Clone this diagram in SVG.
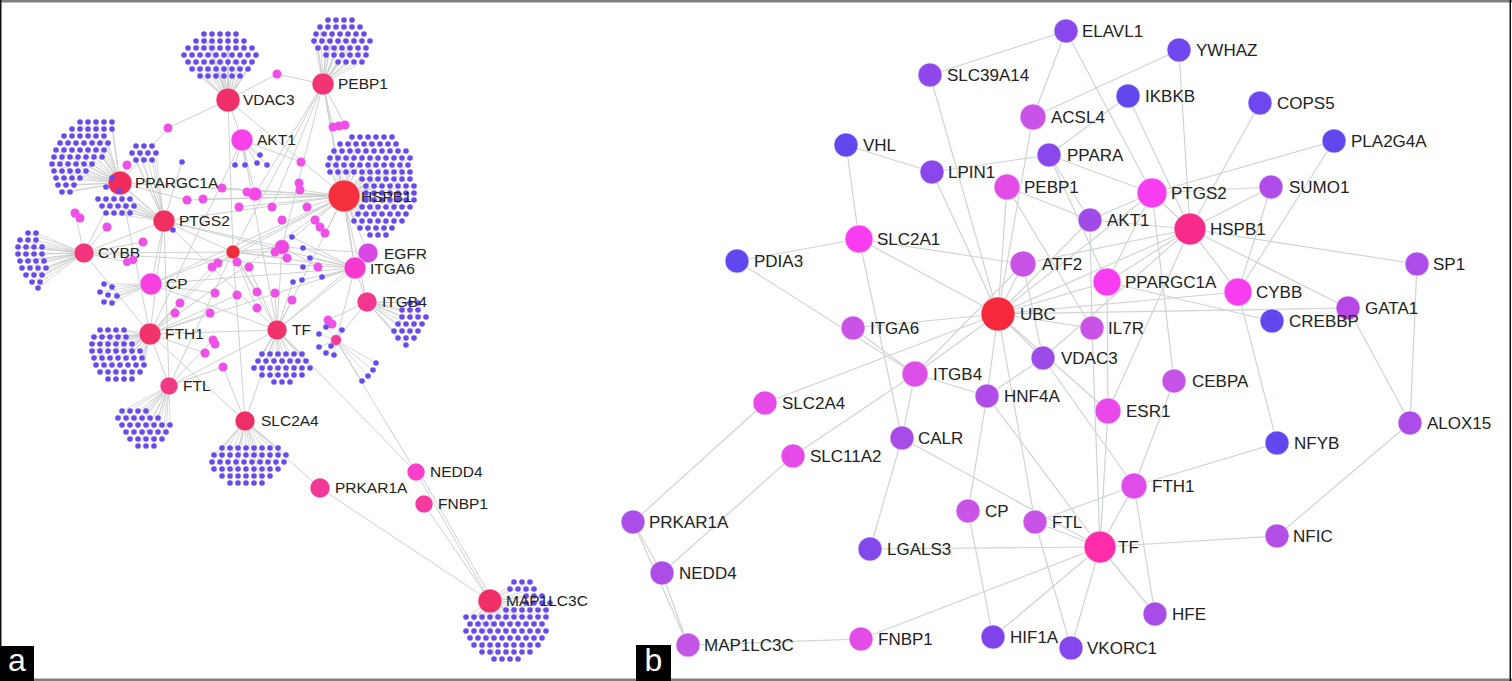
<svg xmlns="http://www.w3.org/2000/svg" width="1512" height="681" viewBox="0 0 1512 681">
<style>
.lb{font-family:"Liberation Sans",Arial,sans-serif;font-size:17px;fill:#222}
.la{font-family:"Liberation Sans",Arial,sans-serif;font-size:15.5px;fill:#222}
.eb line{stroke:#cdd5d2;stroke-width:1.2}
.ea line{stroke:#c5cdca;stroke-width:0.9}
.fan{stroke:#b8c1bd;stroke-width:0.6;fill:none}
.n{stroke:#fff;stroke-opacity:.55;stroke-width:1}
.md{fill:#f150e8}
.pl{font-family:"Liberation Sans",Arial,sans-serif;font-size:32px;fill:#fff}
</style>
<defs>
<circle id="p" r="2.8" fill="#6a4aee"/>
<g id="r2"><use href="#p"/><use href="#p" x="8"/></g>
<g id="r3"><use href="#r2"/><use href="#p" x="16"/></g>
<g id="r4"><use href="#r2"/><use href="#r2" x="16"/></g>
<g id="r5"><use href="#r4"/><use href="#p" x="32"/></g>
<g id="r6"><use href="#r4"/><use href="#r2" x="32"/></g>
<g id="r7"><use href="#r4"/><use href="#r3" x="32"/></g>
<g id="r8"><use href="#r4"/><use href="#r4" x="32"/></g>
<g id="r9"><use href="#r8"/><use href="#p" x="64"/></g>
<g id="r10"><use href="#r8"/><use href="#r2" x="64"/></g>
<g id="r11"><use href="#r8"/><use href="#r3" x="64"/></g>
</defs>
<rect width="1512" height="681" fill="#fff"/>

<!-- ===== Panel a connectors ===== -->
<g id="edges-a" class="ea">
<line x1="228" y1="100" x2="233" y2="252"/><line x1="228" y1="100" x2="277" y2="74"/><line x1="277" y1="74" x2="323" y2="84"/>
<line x1="228" y1="100" x2="344" y2="196"/><line x1="228" y1="100" x2="168" y2="128"/><line x1="168" y1="128" x2="120" y2="183"/>
<line x1="228" y1="100" x2="242" y2="140"/><line x1="323" y1="84" x2="344" y2="196"/><line x1="323" y1="84" x2="255" y2="194"/>
<line x1="323" y1="84" x2="282" y2="247"/><line x1="323" y1="84" x2="233" y2="252"/><line x1="323" y1="84" x2="272" y2="207"/>
<line x1="323" y1="84" x2="355" y2="268"/><line x1="323" y1="84" x2="333" y2="127"/><line x1="323" y1="84" x2="345" y2="125"/>
<line x1="242" y1="140" x2="255" y2="194"/><line x1="242" y1="140" x2="277" y2="330"/><line x1="242" y1="140" x2="150" y2="334"/>
<line x1="242" y1="140" x2="301" y2="162"/><line x1="242" y1="140" x2="235" y2="165"/><line x1="242" y1="140" x2="245" y2="165"/>
<line x1="242" y1="140" x2="257" y2="163"/><line x1="242" y1="140" x2="267" y2="165"/><line x1="242" y1="140" x2="260" y2="155"/>
<line x1="344" y1="196" x2="164" y2="221"/><line x1="344" y1="196" x2="120" y2="183"/><line x1="344" y1="196" x2="255" y2="194"/>
<line x1="344" y1="196" x2="203" y2="199"/><line x1="344" y1="196" x2="233" y2="252"/><line x1="344" y1="196" x2="282" y2="247"/>
<line x1="344" y1="196" x2="277" y2="330"/><line x1="344" y1="196" x2="150" y2="334"/><line x1="344" y1="196" x2="151" y2="284"/>
<line x1="344" y1="196" x2="355" y2="268"/><line x1="344" y1="196" x2="368" y2="253"/><line x1="344" y1="196" x2="367" y2="302"/>
<line x1="344" y1="196" x2="239" y2="207"/><line x1="344" y1="196" x2="212" y2="267"/><line x1="344" y1="196" x2="300" y2="190"/>
<line x1="344" y1="196" x2="307" y2="207"/><line x1="344" y1="196" x2="315" y2="220"/><line x1="344" y1="196" x2="325" y2="233"/>
<line x1="344" y1="196" x2="187" y2="200"/><line x1="344" y1="196" x2="222" y2="188"/>
<line x1="120" y1="183" x2="164" y2="221"/><line x1="120" y1="183" x2="187" y2="200"/><line x1="120" y1="183" x2="150" y2="334"/>
<line x1="120" y1="183" x2="127" y2="165"/><line x1="120" y1="183" x2="84" y2="253"/>
<line x1="164" y1="221" x2="233" y2="252"/><line x1="164" y1="221" x2="277" y2="330"/><line x1="164" y1="221" x2="151" y2="284"/>
<line x1="164" y1="221" x2="150" y2="334"/><line x1="164" y1="221" x2="282" y2="247"/><line x1="164" y1="221" x2="355" y2="268"/>
<line x1="164" y1="221" x2="182" y2="162"/><line x1="164" y1="221" x2="173" y2="230"/><line x1="164" y1="221" x2="169" y2="386"/>
<line x1="84" y1="253" x2="233" y2="252"/><line x1="84" y1="253" x2="75" y2="213"/><line x1="84" y1="253" x2="150" y2="334"/>
<line x1="84" y1="253" x2="164" y2="221"/><line x1="84" y1="253" x2="143" y2="242"/><line x1="84" y1="253" x2="355" y2="268"/>
<line x1="84" y1="253" x2="107" y2="227"/><line x1="75" y1="213" x2="80" y2="218"/><line x1="84" y1="253" x2="127" y2="262"/>
<line x1="151" y1="284" x2="277" y2="330"/><line x1="151" y1="284" x2="233" y2="252"/><line x1="151" y1="284" x2="355" y2="268"/>
<line x1="233" y1="252" x2="277" y2="330"/><line x1="233" y1="252" x2="355" y2="268"/><line x1="233" y1="252" x2="150" y2="334"/>
<line x1="233" y1="252" x2="169" y2="386"/><line x1="233" y1="252" x2="245" y2="421"/><line x1="233" y1="252" x2="282" y2="247"/>
<line x1="150" y1="334" x2="277" y2="330"/><line x1="150" y1="334" x2="169" y2="386"/><line x1="150" y1="334" x2="355" y2="268"/>
<line x1="150" y1="334" x2="245" y2="421"/><line x1="169" y1="386" x2="277" y2="330"/><line x1="169" y1="386" x2="223" y2="367"/>
<line x1="277" y1="330" x2="355" y2="268"/><line x1="277" y1="330" x2="416" y2="472"/><line x1="277" y1="330" x2="282" y2="247"/>
<line x1="277" y1="330" x2="368" y2="253"/><line x1="245" y1="421" x2="320" y2="488"/><line x1="245" y1="421" x2="223" y2="367"/>
<line x1="245" y1="421" x2="277" y2="330"/><line x1="320" y1="488" x2="490" y2="601"/><line x1="416" y1="472" x2="490" y2="601"/>
<line x1="419" y1="472" x2="492" y2="599"/><line x1="424" y1="504" x2="490" y2="601"/><line x1="336" y1="340" x2="416" y2="472"/>
<line x1="355" y1="268" x2="336" y2="340"/><line x1="367" y1="302" x2="336" y2="340"/><line x1="355" y1="268" x2="367" y2="302"/>
<line x1="355" y1="268" x2="368" y2="253"/><line x1="367" y1="302" x2="328" y2="320"/><line x1="282" y1="247" x2="368" y2="253"/>
<line x1="355" y1="268" x2="292" y2="237"/><line x1="355" y1="268" x2="303" y2="248"/><line x1="355" y1="268" x2="310" y2="258"/>
<line x1="355" y1="268" x2="302" y2="280"/><line x1="355" y1="268" x2="322" y2="277"/><line x1="277" y1="330" x2="293" y2="282"/>
<line x1="150" y1="334" x2="212" y2="267"/><line x1="150" y1="334" x2="237" y2="295"/><line x1="150" y1="334" x2="210" y2="313"/>
<line x1="150" y1="334" x2="175" y2="313"/><line x1="150" y1="334" x2="205" y2="353"/><line x1="233" y1="252" x2="218" y2="263"/>
<line x1="233" y1="252" x2="237" y2="262"/><line x1="233" y1="252" x2="257" y2="292"/><line x1="233" y1="252" x2="257" y2="308"/>
<line x1="277" y1="330" x2="249" y2="267"/><line x1="277" y1="330" x2="275" y2="293"/><line x1="277" y1="330" x2="292" y2="300"/>
<line x1="169" y1="386" x2="213" y2="340"/><line x1="151" y1="284" x2="215" y2="293"/><line x1="150" y1="334" x2="180" y2="303"/>
<line x1="282" y1="247" x2="318" y2="267"/><line x1="233" y1="252" x2="275" y2="252"/><line x1="233" y1="252" x2="287" y2="258"/>
</g>

<!-- fans to satellite clusters -->
<g id="fans-a" class="fan">
<path d="M228 100L204 34M228 100L236 34M228 100L196 41M228 100L244 41M228 100L188 48M228 100L252 48M228 100L184 55M228 100L256 55M228 100L188 62M228 100L252 62M228 100L192 69M228 100L248 69M228 100L200 76M228 100L240 76M228 100L212 34M228 100L220 34M228 100L228 34M228 100L212 48M228 100L228 48M228 100L220 55M228 100L240 62M228 100L204 62M228 100L216 69M228 100L232 69M228 100L208 41M228 100L228 41"/>
<path d="M323 84L328 20M323 84L352 20M323 84L320 27M323 84L360 27M323 84L316 34M323 84L364 34M323 84L314 41M323 84L370 41M323 84L318 48M323 84L366 48M323 84L326 55M323 84L366 55M323 84L338 62M323 84L362 62M323 84L336 20M323 84L344 27M323 84L340 41M323 84L350 48M323 84L332 34M323 84L334 55M323 84L346 62M323 84L354 41"/>
<path d="M120 183L80 122M120 183L112 122M120 183L72 129M120 183L112 129M120 183L64 136M120 183L104 136M120 183L60 143M120 183L108 143M120 183L56 150M120 183L104 150M120 183L54 157M120 183L102 157M120 183L52 164M120 183L92 164M120 183L54 171M120 183L86 171M120 183L56 178M120 183L80 178M120 183L58 185M120 183L74 185M120 183L62 192M120 183L70 192M120 183L88 129M120 183L80 143M120 183L72 157M120 183L68 171M120 183L96 122"/>
<path d="M164 221L136 146M164 221L152 146M164 221L132 153M164 221L156 153M164 221L136 160M164 221L152 160M164 221L98 199M164 221L130 199M164 221L102 206M164 221L134 206M164 221L106 213M164 221L130 213M164 221L114 199M164 221L118 206M164 221L144 146M164 221L140 153M164 221L112 178M164 221L106 187"/>
<path d="M84 253L28 233M84 253L36 233M84 253L20 240M84 253L36 240M84 253L18 247M84 253L42 247M84 253L18 254M84 253L42 254M84 253L20 261M84 253L44 261M84 253L22 268M84 253L46 268M84 253L26 275M84 253L42 275M84 253L32 282M84 253L40 282M84 253L38 288M84 253L28 247M84 253L30 261M84 253L34 275"/>
<path d="M344 196L352 137M344 196L392 137M344 196L340 144M344 196L396 144M344 196L334 151M344 196L406 151M344 196L330 158M344 196L410 158M344 196L328 165M344 196L408 165M344 196L330 172M344 196L410 172M344 196L362 179M344 196L410 179M344 196L366 186M344 196L414 186M344 196L366 193M344 196L414 193M344 196L366 200M344 196L414 200M344 196L362 207M344 196L410 207M344 196L358 214M344 196L406 214M344 196L354 221M344 196L402 221M344 196L360 228M344 196L392 228M344 196L370 235M344 196L386 235M344 196L372 137M344 196L364 151M344 196L378 158M344 196L384 165M344 196L390 172M344 196L380 186M344 196L386 200M344 196L382 214M344 196L376 228M344 196L356 144M344 196L352 165"/>
<path d="M151 284L104 284M151 284L112 287M151 284L100 292M151 284L108 295M151 284L104 302M151 284L112 303M151 284L117 296"/>
<path d="M150 334L100 330M150 334L124 330M150 334L94 337M150 334L126 337M150 334L92 344M150 334L132 344M150 334L92 351M150 334L140 351M150 334L94 358M150 334L142 358M150 334L96 365M150 334L144 365M150 334L100 372M150 334L140 372M150 334L108 379M150 334L132 379M150 334L108 344M150 334L116 358M150 334L112 372M150 334L102 337"/>
<path d="M169 386L122 411M169 386L146 411M169 386L118 418M169 386L158 418M169 386L122 425M169 386L170 425M169 386L126 432M169 386L166 432M169 386L130 439M169 386L162 439M169 386L138 446M169 386L154 446M169 386L134 418M169 386L146 432M169 386L138 425M169 386L150 439"/>
<path d="M277 330L262 354M277 330L302 354M277 330L258 361M277 330L306 361M277 330L254 368M277 330L310 368M277 330L262 375M277 330L302 375M277 330L274 382M277 330L290 382M277 330L278 354M277 330L282 368M277 330L270 361M277 330L294 368"/>
<path d="M245 421L222 448M245 421L278 448M245 421L214 455M245 421L286 455M245 421L212 462M245 421L284 462M245 421L214 469M245 421L278 469M245 421L222 476M245 421L270 476M245 421L230 483M245 421L262 483M245 421L246 455M245 421L238 469M245 421L254 476M245 421L236 462M245 421L260 462"/>
<path d="M367 302L410 303M367 302L418 303M367 302L402 310M367 302L418 310M367 302L402 317M367 302L426 317M367 302L398 324M367 302L422 324M367 302L394 331M367 302L418 331M367 302L398 338M367 302L414 338M367 302L406 345"/>
<path d="M490 601L514 582M490 601L530 582M490 601L510 589M490 601L534 589M490 601L526 596M490 601L542 596M490 601L526 603M490 601L550 603M490 601L506 610M490 601L546 610M490 601L466 617M490 601L546 617M490 601L470 624M490 601L542 624M490 601L466 631M490 601L546 631M490 601L470 638M490 601L542 638M490 601L474 645M490 601L538 645M490 601L482 652M490 601L530 652M490 601L494 659M490 601L518 659M490 601L498 631M490 601L514 645M490 601L506 624M490 601L490 638M490 601L482 624"/>
<path d="M336 340L362 381M336 340L368 376M336 340L373 370M336 340L376 363M336 340L319 334M336 340L326 327M336 340L331 346M336 340L319 347M336 340L334 355M336 340L326 353M336 340L342 330"/>
</g>

<!-- panel a hub nodes -->
<g id="a-VDAC3"><circle class="n" cx="228" cy="100" r="12" fill="#ef3068"/><text class="la" x="243" y="105">VDAC3</text></g>
<g id="a-PEBP1"><circle class="n" cx="323" cy="84" r="11" fill="#f23375"/><text class="la" x="338" y="89">PEBP1</text></g>
<g id="a-AKT1"><circle class="n" cx="242" cy="140" r="11" fill="#f640e8"/><text class="la" x="257" y="145">AKT1</text></g>
<g id="a-PPARGC1A"><circle class="n" cx="120" cy="183" r="12" fill="#ef2b5a"/></g>
<g id="a-HSPB1"><circle class="n" cx="344" cy="196" r="16" fill="#f3303c"/></g>
<g id="a-PTGS2"><circle class="n" cx="164" cy="221" r="11" fill="#ef3060"/><text class="la" x="179" y="226">PTGS2</text></g>
<g id="a-CYBB"><circle class="n" cx="84" cy="253" r="10" fill="#f2357a"/><text class="la" x="98" y="258">CYBB</text></g>
<g id="a-hub"><circle class="n" cx="233" cy="252" r="7" fill="#ef2d3a"/></g>
<g id="a-EGFR"><circle class="n" cx="368" cy="253" r="10" fill="#d848e6"/><text class="la" x="384" y="259">EGFR</text></g>
<g id="a-ITGA6"><circle class="n" cx="355" cy="268" r="11" fill="#f63ad0"/><text class="la" x="370" y="274">ITGA6</text></g>
<g id="a-CP"><circle class="n" cx="151" cy="284" r="11" fill="#f640e0"/><text class="la" x="166" y="289">CP</text></g>
<g id="a-ITGB4"><circle class="n" cx="367" cy="302" r="10" fill="#f3378e"/></g>
<g id="a-TF"><circle class="n" cx="277" cy="330" r="10" fill="#f0336a"/><text class="la" x="292" y="335">TF</text></g>
<g id="a-FTH1"><circle class="n" cx="150" cy="334" r="11" fill="#f0336a"/><text class="la" x="165" y="339">FTH1</text></g>
<g id="a-FTL"><circle class="n" cx="169" cy="386" r="9" fill="#f03a84"/><text class="la" x="183" y="391">FTL</text></g>
<g id="a-SLC2A4"><circle class="n" cx="245" cy="421" r="10" fill="#ee2f66"/><text class="la" x="261" y="426">SLC2A4</text></g>
<g id="a-NEDD4"><circle class="n" cx="416" cy="472" r="9" fill="#f840c8"/><text class="la" x="430" y="477">NEDD4</text></g>
<g id="a-PRKAR1A"><circle class="n" cx="320" cy="488" r="10" fill="#f2399a"/><text class="la" x="335" y="493">PRKAR1A</text></g>
<g id="a-FNBP1"><circle class="n" cx="424" cy="504" r="9" fill="#f53aa0"/><text class="la" x="438" y="509">FNBP1</text></g>
<g id="a-MAP1LC3C"><circle class="n" cx="490" cy="601" r="12" fill="#ef2f66"/></g>
<g id="a-mid1"><circle class="n" cx="255" cy="194" r="7" fill="#f54ae8"/></g>
<g id="a-mid2"><circle class="n" cx="282" cy="247" r="7.5" fill="#f046e0"/></g>
<g id="a-mid3"><circle class="n" cx="336" cy="340" r="5.5" fill="#f23a9a"/></g>

<!-- panel a small magenta nodes -->
<g id="a-small" class="md">
<circle cx="277" cy="74" r="4.5"/><circle cx="168" cy="128" r="4.5"/><circle cx="127" cy="165" r="4.5"/><circle cx="75" cy="213" r="4.5"/>
<circle cx="80" cy="218" r="4.5"/><circle cx="107" cy="227" r="4.5"/><circle cx="143" cy="242" r="4.5"/><circle cx="187" cy="200" r="4.5"/>
<circle cx="203" cy="199" r="4.5"/><circle cx="222" cy="188" r="4.5"/><circle cx="239" cy="207" r="4.5"/><circle cx="272" cy="207" r="4.5"/>
<circle cx="282" cy="220" r="4.5"/><circle cx="301" cy="162" r="4.5"/><circle cx="299" cy="183" r="4.5"/><circle cx="300" cy="190" r="4.5"/>
<circle cx="307" cy="207" r="4.5"/><circle cx="315" cy="220" r="4.5"/><circle cx="320" cy="227" r="4.5"/><circle cx="325" cy="233" r="4.5"/>
<circle cx="318" cy="267" r="4.5"/><circle cx="212" cy="267" r="4.5"/><circle cx="218" cy="263" r="4.5"/><circle cx="237" cy="262" r="4.5"/>
<circle cx="249" cy="267" r="4.5"/><circle cx="215" cy="293" r="4.5"/><circle cx="237" cy="295" r="4.5"/><circle cx="257" cy="292" r="4.5"/>
<circle cx="275" cy="293" r="4.5"/><circle cx="292" cy="300" r="4.5"/><circle cx="180" cy="303" r="4.5"/><circle cx="175" cy="313" r="4.5"/>
<circle cx="210" cy="313" r="4.5"/><circle cx="257" cy="308" r="4.5"/><circle cx="213" cy="340" r="4.5"/><circle cx="215" cy="344" r="4.5"/>
<circle cx="205" cy="353" r="4.5"/><circle cx="223" cy="367" r="4.5"/><circle cx="333" cy="127" r="4.5"/><circle cx="339" cy="126" r="4.5"/>
<circle cx="345" cy="125" r="4.5"/><circle cx="328" cy="320" r="4.5"/><circle cx="332" cy="324" r="4.5"/><circle cx="247" cy="192" r="4.5"/>
<circle cx="275" cy="252" r="4.5"/><circle cx="287" cy="258" r="4.5"/><circle cx="127" cy="262" r="4"/><circle cx="133" cy="260" r="4"/>
</g>

<!-- panel a satellite dots -->
<g id="a-satellites">
<use href="#r5" x="204" y="34"/><use href="#r7" x="196" y="41"/><use href="#r9" x="188" y="48"/><use href="#r10" x="184" y="55"/><use href="#r9" x="188" y="62"/><use href="#r8" x="192" y="69"/><use href="#r6" x="200" y="76"/>
<use href="#r4" x="328" y="20"/><use href="#r6" x="320" y="27"/><use href="#r7" x="316" y="34"/><use href="#r8" x="314" y="41"/><use href="#r7" x="318" y="48"/><use href="#r6" x="326" y="55"/><use href="#r4" x="338" y="62"/>
<use href="#r5" x="80" y="122"/><use href="#r6" x="72" y="129"/><use href="#r6" x="64" y="136"/><use href="#r7" x="60" y="143"/><use href="#r7" x="56" y="150"/><use href="#r7" x="54" y="157"/><use href="#r6" x="52" y="164"/><use href="#r5" x="54" y="171"/><use href="#r4" x="56" y="178"/><use href="#r3" x="58" y="185"/><use href="#r2" x="62" y="192"/>
<use href="#r3" x="136" y="146"/><use href="#r4" x="132" y="153"/><use href="#r3" x="136" y="160"/><use href="#r5" x="98" y="199"/><use href="#r5" x="102" y="206"/><use href="#r4" x="106" y="213"/>
<use href="#p" x="112" y="178"/><use href="#p" x="106" y="187"/><use href="#p" x="119" y="191"/>
<use href="#r2" x="28" y="233"/><use href="#r3" x="20" y="240"/><use href="#r4" x="18" y="247"/><use href="#r4" x="18" y="254"/><use href="#r4" x="20" y="261"/><use href="#r4" x="22" y="268"/><use href="#r3" x="26" y="275"/><use href="#r2" x="32" y="282"/><use href="#p" x="38" y="288"/>
<use href="#r6" x="352" y="137"/><use href="#r8" x="340" y="144"/><use href="#r10" x="334" y="151"/><use href="#r11" x="330" y="158"/><use href="#r11" x="328" y="165"/><use href="#r11" x="330" y="172"/><use href="#r7" x="362" y="179"/><use href="#r7" x="366" y="186"/><use href="#r7" x="366" y="193"/><use href="#r7" x="366" y="200"/><use href="#r7" x="362" y="207"/><use href="#r7" x="358" y="214"/><use href="#r7" x="354" y="221"/><use href="#r5" x="360" y="228"/><use href="#r3" x="370" y="235"/>
<use href="#p" x="104" y="284"/><use href="#p" x="112" y="287"/><use href="#p" x="100" y="292"/><use href="#p" x="108" y="295"/><use href="#p" x="104" y="302"/><use href="#p" x="112" y="303"/><use href="#p" x="117" y="296"/>
<use href="#r4" x="100" y="330"/><use href="#r5" x="94" y="337"/><use href="#r6" x="92" y="344"/><use href="#r7" x="92" y="351"/><use href="#r7" x="94" y="358"/><use href="#r7" x="96" y="365"/><use href="#r6" x="100" y="372"/><use href="#r4" x="108" y="379"/>
<use href="#r4" x="122" y="411"/><use href="#r6" x="118" y="418"/><use href="#r7" x="122" y="425"/><use href="#r6" x="126" y="432"/><use href="#r5" x="130" y="439"/><use href="#r3" x="138" y="446"/>
<use href="#r6" x="262" y="354"/><use href="#r7" x="258" y="361"/><use href="#r8" x="254" y="368"/><use href="#r6" x="262" y="375"/><use href="#r3" x="274" y="382"/>
<use href="#r8" x="222" y="448"/><use href="#r10" x="214" y="455"/><use href="#r10" x="212" y="462"/><use href="#r9" x="214" y="469"/><use href="#r7" x="222" y="476"/><use href="#r5" x="230" y="483"/>
<use href="#r2" x="410" y="303"/><use href="#r3" x="402" y="310"/><use href="#r4" x="402" y="317"/><use href="#r4" x="398" y="324"/><use href="#r4" x="394" y="331"/><use href="#r3" x="398" y="338"/><use href="#p" x="406" y="345"/>
<use href="#r3" x="514" y="582"/><use href="#r4" x="510" y="589"/><use href="#r3" x="526" y="596"/><use href="#r4" x="526" y="603"/><use href="#r6" x="506" y="610"/><use href="#r11" x="466" y="617"/><use href="#r10" x="470" y="624"/><use href="#r11" x="466" y="631"/><use href="#r10" x="470" y="638"/><use href="#r9" x="474" y="645"/><use href="#r7" x="482" y="652"/><use href="#r4" x="494" y="659"/>
<use href="#p" x="319" y="334"/><use href="#p" x="326" y="327"/><use href="#p" x="331" y="346"/><use href="#p" x="319" y="347"/><use href="#p" x="334" y="355"/><use href="#p" x="326" y="353"/><use href="#p" x="342" y="330"/>
<use href="#p" x="362" y="381"/><use href="#p" x="368" y="376"/><use href="#p" x="373" y="370"/><use href="#p" x="376" y="363"/>
<use href="#p" x="235" y="165"/><use href="#p" x="245" y="165"/><use href="#p" x="257" y="163"/><use href="#p" x="267" y="165"/><use href="#p" x="260" y="155"/>
<use href="#p" x="182" y="162"/><use href="#p" x="173" y="230"/><use href="#p" x="292" y="237"/><use href="#p" x="303" y="248"/><use href="#p" x="310" y="258"/><use href="#p" x="293" y="282"/><use href="#p" x="302" y="280"/><use href="#p" x="322" y="277"/><use href="#p" x="303" y="267"/>
</g>

<!-- labels drawn over dots -->
<g id="a-labels">
<text class="la" x="135" y="188">PPARGC1A</text>
<text class="la" x="361" y="202">HSPB1</text>
<text class="la" x="382" y="307">ITGB4</text>
<text class="la" x="506" y="606">MAP1LC3C</text>
</g>

<!-- ===== Panel b connectors ===== -->
<g id="edges-b" class="eb">
<line x1="1066" y1="31" x2="930" y2="75"/><line x1="1066" y1="31" x2="1033" y2="117"/><line x1="1066" y1="31" x2="1152" y2="193"/>
<line x1="1179" y1="50" x2="1033" y2="117"/><line x1="1179" y1="50" x2="1190" y2="229"/><line x1="1128" y1="96" x2="1190" y2="229"/>
<line x1="1128" y1="96" x2="1049" y2="155"/><line x1="1260" y1="103" x2="1190" y2="229"/><line x1="1334" y1="141" x2="1152" y2="193"/>
<line x1="1334" y1="141" x2="1238" y2="292"/><line x1="930" y1="75" x2="998" y2="314"/><line x1="1033" y1="117" x2="998" y2="314"/>
<line x1="846" y1="145" x2="932" y2="172"/><line x1="846" y1="145" x2="859" y2="239"/><line x1="932" y1="172" x2="1049" y2="155"/>
<line x1="932" y1="172" x2="998" y2="314"/><line x1="1049" y1="155" x2="1152" y2="193"/><line x1="1049" y1="155" x2="1107" y2="282"/>
<line x1="1049" y1="155" x2="1090" y2="220"/><line x1="1007" y1="187" x2="998" y2="314"/><line x1="1007" y1="187" x2="1090" y2="220"/>
<line x1="1007" y1="187" x2="1092" y2="328"/><line x1="1152" y1="193" x2="1271" y2="187"/><line x1="1152" y1="193" x2="1190" y2="229"/>
<line x1="1152" y1="193" x2="1090" y2="220"/><line x1="1152" y1="193" x2="1174" y2="381"/><line x1="1152" y1="193" x2="998" y2="314"/>
<line x1="1152" y1="193" x2="1107" y2="282"/><line x1="1190" y1="229" x2="1271" y2="187"/><line x1="1190" y1="229" x2="1090" y2="220"/>
<line x1="1190" y1="229" x2="1417" y2="264"/><line x1="1190" y1="229" x2="1348" y2="308"/><line x1="1190" y1="229" x2="1107" y2="282"/>
<line x1="1190" y1="229" x2="1108" y2="411"/><line x1="1190" y1="229" x2="998" y2="314"/><line x1="1190" y1="229" x2="1023" y2="264"/>
<line x1="1190" y1="229" x2="1238" y2="292"/><line x1="1190" y1="229" x2="1043" y2="358"/><line x1="1271" y1="187" x2="1238" y2="292"/>
<line x1="1417" y1="264" x2="1410" y2="423"/><line x1="1348" y1="308" x2="1410" y2="423"/><line x1="1410" y1="423" x2="1277" y2="536"/>
<line x1="1277" y1="536" x2="1100" y2="547"/><line x1="1238" y1="292" x2="1277" y2="443"/><line x1="1238" y1="292" x2="998" y2="314"/>
<line x1="1348" y1="308" x2="998" y2="314"/><line x1="1107" y1="282" x2="1272" y2="321"/><line x1="1277" y1="443" x2="1134" y2="486"/>
<line x1="859" y1="239" x2="737" y2="261"/><line x1="859" y1="239" x2="1023" y2="264"/><line x1="859" y1="239" x2="998" y2="314"/>
<line x1="859" y1="239" x2="902" y2="438"/><line x1="737" y1="261" x2="915" y2="374"/><line x1="853" y1="328" x2="998" y2="314"/>
<line x1="853" y1="328" x2="915" y2="374"/><line x1="915" y1="374" x2="998" y2="314"/><line x1="915" y1="374" x2="1023" y2="264"/>
<line x1="915" y1="374" x2="902" y2="438"/><line x1="915" y1="374" x2="987" y2="396"/><line x1="915" y1="374" x2="793" y2="456"/>
<line x1="765" y1="403" x2="998" y2="314"/><line x1="765" y1="403" x2="633" y2="522"/><line x1="793" y1="456" x2="662" y2="573"/>
<line x1="633" y1="522" x2="662" y2="573"/><line x1="633" y1="522" x2="688" y2="645"/><line x1="662" y1="573" x2="688" y2="645"/>
<line x1="688" y1="645" x2="861" y2="639"/><line x1="861" y1="639" x2="1100" y2="547"/><line x1="902" y1="438" x2="870" y2="549"/>
<line x1="902" y1="438" x2="1100" y2="547"/><line x1="870" y1="549" x2="1100" y2="547"/><line x1="987" y1="396" x2="998" y2="314"/>
<line x1="987" y1="396" x2="1043" y2="358"/><line x1="987" y1="396" x2="968" y2="511"/><line x1="987" y1="396" x2="1100" y2="547"/>
<line x1="968" y1="511" x2="993" y2="637"/><line x1="998" y1="314" x2="1035" y2="522"/><line x1="1035" y1="522" x2="1071" y2="648"/>
<line x1="1035" y1="522" x2="1100" y2="547"/><line x1="1035" y1="522" x2="1134" y2="486"/><line x1="1134" y1="486" x2="1100" y2="547"/>
<line x1="1134" y1="486" x2="1155" y2="614"/><line x1="1134" y1="486" x2="1174" y2="381"/><line x1="1043" y1="358" x2="1134" y2="486"/>
<line x1="998" y1="314" x2="1043" y2="358"/><line x1="998" y1="314" x2="1108" y2="411"/><line x1="998" y1="314" x2="1023" y2="264"/>
<line x1="998" y1="314" x2="1090" y2="220"/><line x1="998" y1="314" x2="1107" y2="282"/><line x1="998" y1="314" x2="1092" y2="328"/>
<line x1="1023" y1="264" x2="1043" y2="358"/><line x1="1090" y1="220" x2="1092" y2="328"/><line x1="1107" y1="282" x2="1108" y2="411"/>
<line x1="1108" y1="411" x2="1100" y2="547"/><line x1="1092" y1="328" x2="1100" y2="547"/><line x1="1100" y1="547" x2="1155" y2="614"/>
<line x1="1100" y1="547" x2="1071" y2="648"/><line x1="1100" y1="547" x2="993" y2="637"/>
</g>

<!-- ===== Panel b nodes ===== -->
<g id="b-ELAVL1"><circle class="n" cx="1066" cy="31" r="12" fill="#8a47eb"/><text class="lb" x="1082" y="37">ELAVL1</text></g>
<g id="b-YWHAZ"><circle class="n" cx="1179" cy="50" r="12" fill="#7047ee"/><text class="lb" x="1196" y="56">YWHAZ</text></g>
<g id="b-SLC39A14"><circle class="n" cx="930" cy="75" r="12" fill="#8f48ea"/><text class="lb" x="947" y="81">SLC39A14</text></g>
<g id="b-IKBKB"><circle class="n" cx="1128" cy="96" r="12" fill="#6347ee"/><text class="lb" x="1145" y="102">IKBKB</text></g>
<g id="b-COPS5"><circle class="n" cx="1260" cy="103" r="12" fill="#6e47ee"/><text class="lb" x="1277" y="109">COPS5</text></g>
<g id="b-ACSL4"><circle class="n" cx="1033" cy="117" r="13" fill="#c953e6"/><text class="lb" x="1051" y="123">ACSL4</text></g>
<g id="b-PLA2G4A"><circle class="n" cx="1334" cy="141" r="12" fill="#6347ee"/><text class="lb" x="1351" y="147">PLA2G4A</text></g>
<g id="b-VHL"><circle class="n" cx="846" cy="145" r="12" fill="#5f48ee"/><text class="lb" x="863" y="151">VHL</text></g>
<g id="b-PPARA"><circle class="n" cx="1049" cy="155" r="12" fill="#8a47eb"/><text class="lb" x="1067" y="161">PPARA</text></g>
<g id="b-LPIN1"><circle class="n" cx="932" cy="172" r="12" fill="#8a47eb"/><text class="lb" x="948" y="178">LPIN1</text></g>
<g id="b-PEBP1"><circle class="n" cx="1007" cy="187" r="13" fill="#e44ce8"/><text class="lb" x="1024" y="193">PEBP1</text></g>
<g id="b-PTGS2"><circle class="n" cx="1152" cy="193" r="15" fill="#f83cf0"/><text class="lb" x="1171" y="199">PTGS2</text></g>
<g id="b-SUMO1"><circle class="n" cx="1271" cy="187" r="12" fill="#b04ce8"/><text class="lb" x="1289" y="193">SUMO1</text></g>
<g id="b-AKT1"><circle class="n" cx="1090" cy="220" r="12" fill="#a04ae8"/><text class="lb" x="1107" y="226">AKT1</text></g>
<g id="b-HSPB1"><circle class="n" cx="1190" cy="229" r="16" fill="#f72c8a"/><text class="lb" x="1210" y="235">HSPB1</text></g>
<g id="b-SLC2A1"><circle class="n" cx="859" cy="239" r="14" fill="#f83cf0"/><text class="lb" x="877" y="245">SLC2A1</text></g>
<g id="b-PDIA3"><circle class="n" cx="737" cy="261" r="12" fill="#5f48ee"/><text class="lb" x="754" y="267">PDIA3</text></g>
<g id="b-ATF2"><circle class="n" cx="1023" cy="264" r="13" fill="#c953e6"/><text class="lb" x="1042" y="270">ATF2</text></g>
<g id="b-SP1"><circle class="n" cx="1417" cy="264" r="12" fill="#ad4ce8"/><text class="lb" x="1433" y="270">SP1</text></g>
<g id="b-PPARGC1A"><circle class="n" cx="1107" cy="282" r="14" fill="#f83cf0"/><text class="lb" x="1125" y="288">PPARGC1A</text></g>
<g id="b-CYBB"><circle class="n" cx="1238" cy="292" r="14" fill="#f83cf0"/><text class="lb" x="1256" y="298">CYBB</text></g>
<g id="b-GATA1"><circle class="n" cx="1348" cy="308" r="12" fill="#b848e6"/><text class="lb" x="1365" y="314">GATA1</text></g>
<g id="b-UBC"><circle class="n" cx="998" cy="314" r="17" fill="#f5283c"/><text class="lb" x="1020" y="320">UBC</text></g>
<g id="b-CREBBP"><circle class="n" cx="1272" cy="321" r="12" fill="#6347ee"/><text class="lb" x="1289" y="327">CREBBP</text></g>
<g id="b-ITGA6"><circle class="n" cx="853" cy="328" r="12" fill="#c953e6"/><text class="lb" x="870" y="334">ITGA6</text></g>
<g id="b-IL7R"><circle class="n" cx="1092" cy="328" r="12" fill="#c953e6"/><text class="lb" x="1108" y="334">IL7R</text></g>
<g id="b-VDAC3"><circle class="n" cx="1043" cy="358" r="12" fill="#9c4ae8"/><text class="lb" x="1061" y="364">VDAC3</text></g>
<g id="b-ITGB4"><circle class="n" cx="915" cy="374" r="13" fill="#dc4ee8"/><text class="lb" x="933" y="380">ITGB4</text></g>
<g id="b-CEBPA"><circle class="n" cx="1174" cy="381" r="12" fill="#c652e6"/><text class="lb" x="1192" y="387">CEBPA</text></g>
<g id="b-HNF4A"><circle class="n" cx="987" cy="396" r="12" fill="#b24ce8"/><text class="lb" x="1004" y="402">HNF4A</text></g>
<g id="b-SLC2A4"><circle class="n" cx="765" cy="403" r="12" fill="#e84ae8"/><text class="lb" x="782" y="409">SLC2A4</text></g>
<g id="b-ESR1"><circle class="n" cx="1108" cy="411" r="13" fill="#e84aea"/><text class="lb" x="1126" y="417">ESR1</text></g>
<g id="b-ALOX15"><circle class="n" cx="1410" cy="423" r="12" fill="#ad4ce8"/><text class="lb" x="1427" y="429">ALOX15</text></g>
<g id="b-CALR"><circle class="n" cx="902" cy="438" r="12" fill="#a84ce8"/><text class="lb" x="918" y="444">CALR</text></g>
<g id="b-NFYB"><circle class="n" cx="1277" cy="443" r="12" fill="#6347ee"/><text class="lb" x="1294" y="449">NFYB</text></g>
<g id="b-SLC11A2"><circle class="n" cx="793" cy="456" r="12" fill="#e64ae8"/><text class="lb" x="810" y="462">SLC11A2</text></g>
<g id="b-FTH1"><circle class="n" cx="1134" cy="486" r="13" fill="#e04ce8"/><text class="lb" x="1152" y="492">FTH1</text></g>
<g id="b-CP"><circle class="n" cx="968" cy="511" r="12" fill="#c953e6"/><text class="lb" x="985" y="517">CP</text></g>
<g id="b-FTL"><circle class="n" cx="1035" cy="522" r="12" fill="#c953e6"/><text class="lb" x="1052" y="528">FTL</text></g>
<g id="b-PRKAR1A"><circle class="n" cx="633" cy="522" r="12" fill="#ac4ee8"/><text class="lb" x="649" y="528">PRKAR1A</text></g>
<g id="b-NFIC"><circle class="n" cx="1277" cy="536" r="12" fill="#b44ee6"/><text class="lb" x="1293" y="542">NFIC</text></g>
<g id="b-TF"><circle class="n" cx="1100" cy="547" r="16" fill="#fd2ca8"/><text class="lb" x="1118" y="553">TF</text></g>
<g id="b-LGALS3"><circle class="n" cx="870" cy="549" r="12" fill="#8248ec"/><text class="lb" x="887" y="555">LGALS3</text></g>
<g id="b-NEDD4"><circle class="n" cx="662" cy="573" r="12" fill="#ae4ce8"/><text class="lb" x="679" y="579">NEDD4</text></g>
<g id="b-HFE"><circle class="n" cx="1155" cy="614" r="12" fill="#a84ce8"/><text class="lb" x="1172" y="620">HFE</text></g>
<g id="b-HIF1A"><circle class="n" cx="993" cy="637" r="12" fill="#8044ee"/><text class="lb" x="1010" y="643">HIF1A</text></g>
<g id="b-FNBP1"><circle class="n" cx="861" cy="639" r="12" fill="#e44ce8"/><text class="lb" x="878" y="645">FNBP1</text></g>
<g id="b-MAP1LC3C"><circle class="n" cx="688" cy="645" r="12" fill="#c254e6"/><text class="lb" x="704" y="651">MAP1LC3C</text></g>
<g id="b-VKORC1"><circle class="n" cx="1071" cy="648" r="12" fill="#8646ec"/><text class="lb" x="1087" y="654">VKORC1</text></g>

<!-- frame and panel tags -->
<g id="frame">
<rect x="0" y="0" width="1512" height="2.5" fill="#7f7f7f"/>
<rect x="0" y="678.5" width="1512" height="2.5" fill="#7f7f7f"/>
<rect x="0" y="0" width="1.5" height="681" fill="#111"/>
<rect x="1509.5" y="0" width="1.5" height="681" fill="#111"/>
</g>
<g id="tag-a"><rect x="0" y="646" width="34" height="35" fill="#000"/><text class="pl" x="17" y="671" text-anchor="middle">a</text></g>
<g id="tag-b"><rect x="636" y="645" width="35" height="36" fill="#000"/><text class="pl" x="653.5" y="671" text-anchor="middle">b</text></g>
</svg>
